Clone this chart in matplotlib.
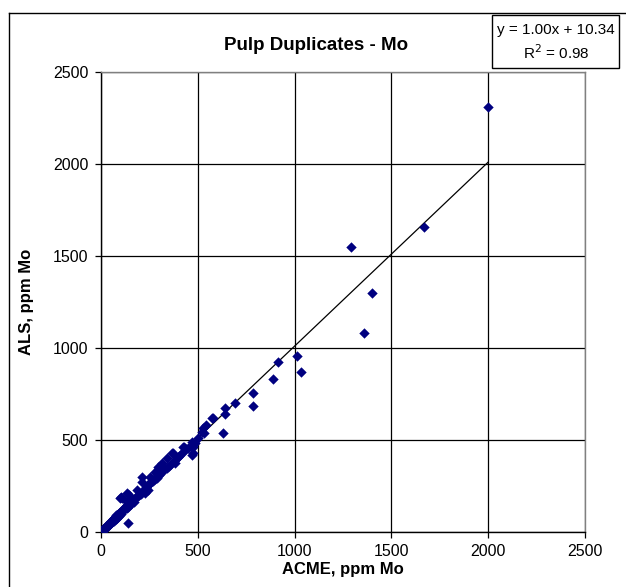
import matplotlib
matplotlib.use("Agg")
import matplotlib.pyplot as plt
from matplotlib.lines import Line2D
from matplotlib.patches import Rectangle
import numpy as np

plt.rcParams['font.family'] = ['Liberation Sans', 'DejaVu Sans']

title = "Pulp Duplicates - Mo"
x_label = "ACME, ppm Mo"
y_label = "ALS, ppm Mo"
ticks = [0, 500, 1000, 1500, 2000, 2500]
slope = 1.00
intercept = 10.34
r2 = 0.98

acme = [2, 5, 8, 10, 12, 15, 18, 20, 22, 25, 28, 30, 32, 35, 38, 40, 42, 45, 48, 50,
        52, 55, 58, 60, 62, 65, 68, 70, 72, 75, 78, 80, 82, 85, 88, 90, 92, 95, 98, 105,
        110, 133, 145, 133, 133, 137, 100, 105, 110, 115, 120, 125, 130, 135, 140, 145,
        150, 155, 160, 165, 170, 175, 180, 184, 190, 195, 200, 205, 210, 213, 215, 220,
        227, 230, 235, 240, 244, 250, 253, 255, 260, 265, 270, 279, 280, 285, 290, 296,
        300, 305, 313, 310, 320, 330, 339, 340, 350, 360, 368, 374, 382, 382, 390, 400,
        410, 420, 425, 428, 440, 450, 468, 468, 468, 477, 483, 475, 500, 520, 528, 534,
        544, 572, 577, 632, 640, 640, 692, 787, 787, 890, 912, 1011, 1032, 1290, 1360,
        1400, 1670, 2000]
als = [3, 6, 7, 12, 15, 14, 20, 22, 19, 28, 30, 26, 36, 38, 34, 45, 40, 50, 52, 47,
       58, 60, 55, 65, 70, 62, 75, 72, 80, 70, 85, 90, 78, 95, 92, 100, 88, 105, 183, 190,
       185, 210, 200, 165, 129, 51, 110, 100, 120, 118, 130, 125, 140, 145, 138, 155,
       160, 150, 170, 175, 165, 185, 190, 228, 195, 200, 210, 205, 301, 274, 225, 230,
       210, 240, 245, 250, 228, 260, 301, 265, 270, 280, 275, 328, 290, 300, 295, 355,
       310, 315, 373, 330, 335, 340, 400, 350, 360, 370, 428, 428, 377, 391, 400, 410,
       420, 430, 460, 460, 450, 455, 467, 418, 491, 428, 482, 464, 510, 545, 563, 536,
       582, 618, 618, 536, 672, 641, 699, 755, 686, 831, 922, 957, 870, 1550, 1080,
       1300, 1660, 2310]

W, H = 626, 587
fig = plt.figure(figsize=(W / 100, H / 100), dpi=100)
ax = fig.add_axes([101 / W, 1 - 532 / H, (585 - 101) / W, (532 - 72) / H])

ax.set_xlim(0, 2500)
ax.set_ylim(0, 2500)
ax.set_xticks(ticks)
ax.set_yticks(ticks)
ax.grid(True, color='black', linewidth=0.9)
ax.set_axisbelow(True)
for side, sp in ax.spines.items():
    sp.set_color('#808080')
    sp.set_linewidth(1.0)
ax.spines['left'].set_color('black')
ax.spines['bottom'].set_color('black')
ax.tick_params(direction='out', length=4, width=0.9, labelsize=11.5, pad=5)

xs = np.array([0, max(acme)])
ax.plot(xs, slope * xs + intercept, color='black', linewidth=0.9, zorder=2)
ax.scatter(acme, als, marker='D', s=28, color='#000080', zorder=3, linewidths=0)

ax.set_xlabel(x_label, fontsize=12, fontweight='bold', labelpad=2)
ax.set_ylabel(y_label, fontsize=12, fontweight='bold', labelpad=14)

fig.text(316 / W, 1 - 45 / H, title, fontsize=13.5, fontweight='bold', ha='center', va='center')

# outer chart border (left and top visible)
fig.add_artist(Line2D([9 / W, 9 / W], [0, 1 - 13 / H], transform=fig.transFigure, color='black', linewidth=1))
fig.add_artist(Line2D([9 / W, 1], [1 - 13 / H, 1 - 13 / H], transform=fig.transFigure, color='black', linewidth=1))

# equation box
fig.add_artist(Rectangle((492 / W, 1 - 68 / H), (619 - 492) / W, (68 - 15) / H,
                         transform=fig.transFigure, facecolor='white', edgecolor='black', linewidth=1))
fig.text(556 / W, 1 - 30 / H, f"y = {slope:.2f}x + {intercept:.2f}", fontsize=11, ha='center', va='center')
fig.text(556 / W, 1 - 53 / H, f"R$^2$ = {r2:.2f}", fontsize=11, ha='center', va='center')

fig.savefig("out.png", dpi=100, facecolor='white')
